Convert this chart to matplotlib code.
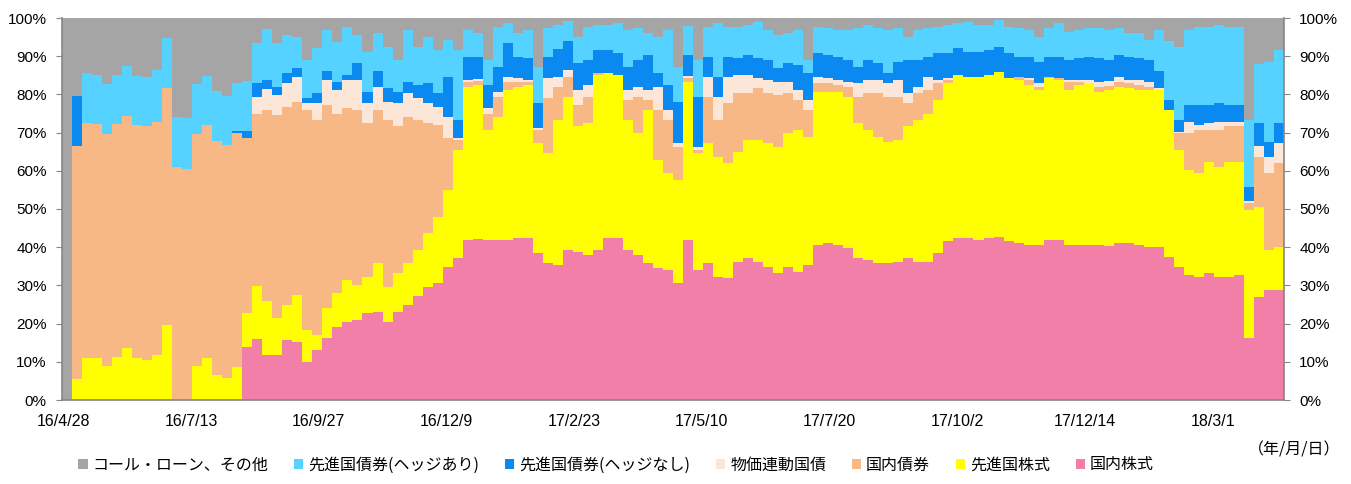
import numpy as np
import matplotlib
matplotlib.use("Agg")
import matplotlib.pyplot as plt
from matplotlib.patches import Patch

plt.rcParams['font.family'] = ['Noto Sans CJK JP', 'DejaVu Sans']

# x-axis: business-day index; labels every 51 business days
tick_labels = ["16/4/28", "16/7/13", "16/9/27", "16/12/9", "17/2/23",
               "17/5/10", "17/7/20", "17/10/2", "17/12/14", "18/3/1"]
tick_step = 51
sample_step = 4   # business days represented by each sampled value

categories = ["国内株式", "先進国株式", "国内債券", "物価連動国債",
              "先進国債券(ヘッジなし)", "先進国債券(ヘッジあり)", "コール・ローン、その他"]
colors = ["#F17FA7", "#FFFF00", "#F8B886", "#FCE6D8", "#0A8AF0", "#55D2FF", "#A5A5A5"]

# cumulative upper edge (%) of each band
top_dom_equity = [0, 0, 0, 0, 0, 0, 0, 0, 0, 0, 0, 0, 0, 0, 0, 0, 0, 0, 13.8, 15.9,
                  11.8, 11.8, 15.7, 15.3, 10, 13.1, 16.1, 19.2, 20.5, 20.9,
                  22.7, 23.1, 20.5, 23.1, 24.9, 27.1, 29.7, 30.5, 34.9, 37.1,
                  41.9, 42.1, 41.9, 41.9, 42, 42.3, 42.3, 38.4, 35.8, 35.3,
                  39.3, 38.8, 38, 39.3, 42.3, 42.3, 39.3, 38, 35.8, 34.5,
                  34, 30.5, 41.9, 34, 35.8, 32.3, 31.9, 36.2, 37.1, 36.2,
                  34.9, 33.2, 34.9, 33.6, 35.3, 40.6, 41, 40.6, 39.7, 37.1,
                  36.6, 35.8, 35.8, 36.2, 37.1, 36.2, 36.2, 38.4, 41.5, 42.3,
                  42.3, 42, 42.3, 42.7, 41.5, 41, 40.6, 40.6, 41.9, 41.9,
                  40.6, 40.6, 40.6, 40.6, 40.3, 41, 41, 40.6, 40.1, 40.1,
                  37.5, 34.9, 32.7, 32.3, 33.2, 32.3, 32.3, 32.7, 16.1, 27,
                  28.8, 28.8]
top_dev_equity = [0, 5.5, 10.9, 10.9, 8.9, 11.3, 13.5, 10.9, 10.5, 11.8,
                  19.6, 0, 0, 8.9, 10.9, 6.5, 5.7, 8.7, 22.9, 29.8,
                  26, 21.4, 24.9, 27.5, 18.3, 17, 24, 27.9, 31.4, 30,
                  32.3, 35.8, 29.7, 33.2, 35.8, 39.3, 43.6, 48, 55, 65.4,
                  82, 82.5, 70.7, 74.2, 81.2, 82, 82.5, 67.2, 64.6, 73.3,
                  79.4, 71.6, 72.4, 85.1, 85.5, 85.1, 73.3, 69.8, 75.9, 62.8,
                  59.3, 57.6, 83.3, 64.6, 67.2, 63.7, 62, 65, 68.1, 68.1,
                  67.2, 66.3, 69.8, 70.7, 68.9, 80.7, 80.7, 80.7, 79.4, 72.4,
                  70.7, 68.9, 67.5, 68.1, 71.6, 73.3, 75, 78.5, 82.9, 85.1,
                  84.6, 84.6, 85.1, 85.9, 84.2, 83.8, 82.5, 81.2, 84.2, 83.8,
                  81.2, 82.5, 82.9, 80.7, 81.2, 82, 81.6, 81.2, 81.2, 81.2,
                  75.9, 65.4, 60.2, 59.3, 62.4, 61.1, 62.4, 62.4, 49.7, 50.6,
                  39.3, 40]
top_dom_bond = [0, 66.5, 72.4, 72.3, 69.6, 72.3, 74.3, 72, 71.6, 72.9,
                81.8, 60.9, 60.6, 69.6, 72, 67.8, 66.8, 69.8, 68.5, 75,
                75.9, 74.6, 76.8, 78.1, 75.9, 73.3, 77.2, 75, 76.4, 75.9,
                72.4, 75.9, 73.3, 71.6, 74.2, 73.3, 72.4, 72, 68.5, 68,
                83.3, 83.4, 75, 79.4, 83.3, 83.3, 83.3, 70.7, 79, 82,
                84.6, 77.2, 79.4, 85.5, 85.5, 85.1, 78.5, 79.4, 78.5, 75.9,
                73.3, 66.3, 84.4, 65.4, 79.4, 73.3, 77.7, 80.3, 80.3, 81.6,
                80.3, 79.8, 80.3, 78.5, 75.9, 82.9, 82.9, 82.5, 82, 79.4,
                80.3, 80.3, 79.4, 79.2, 77.7, 80.3, 81.2, 82.9, 83.8, 85.1,
                84.6, 84.6, 85.1, 85.9, 84.2, 84.6, 83.8, 82, 84.6, 84.2,
                83.3, 83.3, 82.9, 82, 82.3, 83.3, 82.9, 82.5, 82, 81.2,
                75.9, 69.8, 69.8, 70.7, 70.7, 70.7, 71.6, 71.6, 51.5, 63.5,
                59.3, 62]
top_inflation_linked = [0, 66.5, 72.4, 72.3, 69.6, 72.3, 74.3, 72, 71.6, 72.9,
                        81.8, 60.9, 60.6, 69.6, 72, 67.8, 66.8, 69.8, 68.5, 79.4,
                        81.5, 79.8, 82.9, 84.6, 77.7, 77.7, 83.8, 81.2, 83.8, 83.8,
                        77.7, 82, 78.1, 77.7, 80.3, 79, 77.7, 76.8, 74.2, 68.5,
                        83.8, 84, 76.4, 80.7, 84.6, 84.2, 83.8, 71.1, 84.2, 84.6,
                        86.3, 81.2, 82.5, 85.5, 85.5, 85.1, 81.2, 82, 81.2, 82,
                        75.9, 67.2, 84.8, 66.3, 84.6, 79.4, 84.6, 85.1, 85.1, 84.2,
                        83.8, 83.3, 83.3, 81.2, 78.5, 84.6, 84.2, 83.8, 83.3, 82.9,
                        83.8, 83.8, 82.9, 83.7, 80.3, 82, 84.6, 83.8, 84.2, 85.1,
                        84.6, 84.6, 85.1, 85.9, 84.2, 84.6, 84.2, 82.9, 84.6, 84.2,
                        83.8, 83.8, 83.8, 83.3, 83.6, 84.6, 83.8, 83.8, 83.3, 81.6,
                        75.9, 70.2, 72.8, 71.9, 72.4, 72.8, 72.8, 72.8, 52, 66.5,
                        63.7, 67.2]
top_unhedged = [0, 79.6, 72.4, 72.3, 69.6, 72.3, 74.3, 72, 71.6, 72.9,
                81.8, 60.9, 60.6, 69.6, 72, 67.8, 66.8, 70.5, 70.5, 82.9,
                83.8, 82, 85.5, 86.9, 79, 80.3, 86, 83.3, 85.1, 88.1,
                80.7, 86, 81.6, 80.7, 83.3, 82.5, 82.9, 80.3, 84.6, 73.3,
                89.9, 89.7, 82.5, 87.3, 93.4, 89.9, 89.5, 77.7, 89.9, 91.9,
                93.9, 88.1, 89, 91.6, 91.6, 90.8, 87.3, 89, 90.3, 85.5,
                82.5, 78.1, 90.3, 79.4, 89.9, 84.6, 89.9, 89.5, 90.3, 89.5,
                89, 86.9, 88.1, 87.7, 85.5, 90.8, 90.3, 89.9, 89, 87.3,
                89, 88.1, 85.5, 88.5, 89, 89, 89.9, 90.8, 90.8, 92.1,
                91.2, 91.2, 91.6, 92.5, 90.8, 89.9, 89.9, 88.6, 89.9, 89.9,
                89, 89.5, 89.9, 89.5, 89, 90.3, 89.9, 89.5, 89, 86,
                78.5, 73.3, 77.2, 77.2, 77.2, 77.7, 77.2, 77.2, 55.8, 72.4,
                67.6, 72.4]
top_hedged = [0, 79.6, 85.5, 85.1, 82.7, 85.1, 87.5, 84.9, 84.6, 86.5,
              94.7, 74, 73.8, 82.7, 84.9, 80.9, 79.6, 82.9, 83.5, 93.4,
              97, 93.4, 95.5, 95.1, 89, 92.1, 96.9, 93.8, 97.7, 95.5,
              91.2, 96, 92.5, 89, 96.9, 92.5, 95.1, 91.6, 94.2, 91.6,
              96.9, 96.2, 89, 97.7, 98.6, 96, 96.9, 87.3, 97.3, 98.2,
              99.1, 95.1, 97.7, 98.2, 98.2, 98.6, 96.9, 97.3, 96, 95.1,
              96.9, 87.3, 98, 89, 97.7, 98.6, 97.7, 97.7, 98.2, 99,
              96.9, 95.5, 96, 96.9, 89, 97.7, 97.3, 96.9, 96.9, 97.3,
              98.2, 97.3, 96.9, 97.3, 95.1, 96.9, 97.3, 97.7, 98.2, 98.6,
              99, 98.2, 98.2, 99.5, 97.7, 97.3, 96.9, 95.1, 97.3, 98.6,
              96.4, 96.9, 97.3, 97.3, 96.9, 97.3, 96, 96, 94.2, 96.9,
              93.9, 92.5, 96.9, 97.7, 97.7, 98.2, 97.7, 97.7, 73.3, 88,
              88.6, 91.6]

n = len(top_dom_equity)
tops = np.array([top_dom_equity, top_dev_equity, top_dom_bond, top_inflation_linked,
                 top_unhedged, top_hedged, [100.0] * n], dtype=float)
levels = np.vstack([np.zeros(n), tops])
levels = np.maximum.accumulate(levels, axis=0)

W, H = 1351, 484
fig = plt.figure(figsize=(W / 100, H / 100), dpi=100)
ax = fig.add_axes([62 / W, 1 - 400 / H, (1284 - 62) / W, (400 - 18) / H])

edges = np.arange(n + 1) * sample_step
for i in range(len(categories)):
    ax.stairs(levels[i + 1], edges, baseline=levels[i], fill=True,
              color=colors[i], linewidth=0)

ax.set_xlim(0, n * sample_step)
ax.set_ylim(0, 100)

ax.set_xticks(np.arange(len(tick_labels)) * tick_step + 0.5)
ax.set_xticklabels(tick_labels, fontfamily='Liberation Sans', fontsize=11.5)
ax.tick_params(axis='x', length=0, pad=10)

yt = np.arange(0, 101, 10)
ax.set_yticks(yt)
ax.set_yticklabels([f"{v}%" for v in yt], fontfamily='Liberation Sans', fontsize=11)
ax.tick_params(axis='y', direction='out', length=4, color='#868686',
               left=True, right=True, labelleft=True, labelright=True, pad=7)

for s in ['left', 'right', 'bottom']:
    ax.spines[s].set_color('#868686')
    ax.spines[s].set_linewidth(1.2)
ax.spines['top'].set_visible(False)

handles = [Patch(facecolor=colors[i], edgecolor='none') for i in range(len(categories))][::-1]
fig.legend(handles, categories[::-1], ncol=7, loc='center',
           bbox_to_anchor=(616 / W, 1 - 465 / H), frameon=False,
           fontsize=11.5, handlelength=0.6, handleheight=0.6,
           handletextpad=0.3, columnspacing=1.6)

fig.text(1340 / W, 1 - 450 / H, "（年/月/日）", ha='right', va='center', fontsize=11.5)

fig.savefig("out.png", dpi=100)
